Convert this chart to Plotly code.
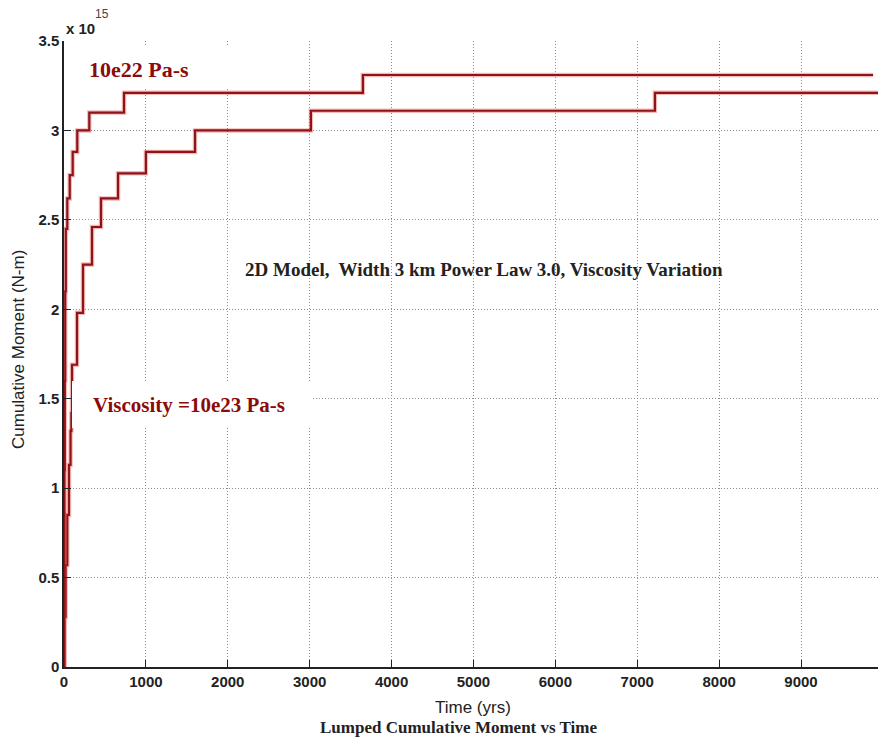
import plotly.graph_objects as go

# Data (moment in units of 1e15 N-m, time in years)
t_low_visc = [0, 5, 20, 40, 61, 80, 90, 98, 159, 232, 342, 452, 660, 1000, 1600, 3015, 7216, 9940]
m_low_visc = [0, 0.28, 0.57, 0.85, 1.13, 1.32, 1.42, 1.69, 1.98, 2.25, 2.46, 2.62, 2.76, 2.88, 3.0, 3.11, 3.21, 3.21]

t_high_visc = [0, 3, 6, 10, 15, 22, 40, 70, 106, 162, 309, 733, 3650, 9880]
m_high_visc = [0, 0.55, 1.1, 1.6, 2.1, 2.45, 2.62, 2.75, 2.88, 3.0, 3.1, 3.21, 3.31, 3.31]

x_ticks = [0, 1000, 2000, 3000, 4000, 5000, 6000, 7000, 8000, 9000]
y_ticks = [0, 0.5, 1, 1.5, 2, 2.5, 3, 3.5]
y_ticklabels = ["0", "0.5", "1", "1.5", "2", "2.5", "3", "3.5"]

fig = go.Figure()
for tx, my in [(t_low_visc, m_low_visc), (t_high_visc, m_high_visc)]:
    fig.add_trace(go.Scatter(x=tx, y=my, mode="lines", line_shape="hv",
                             line=dict(color="rgba(225,80,80,0.4)", width=4.5),
                             hoverinfo="skip", showlegend=False))
    fig.add_trace(go.Scatter(x=tx, y=my, mode="lines", line_shape="hv",
                             line=dict(color="#8e1418", width=2.2),
                             showlegend=False))

tickfont = dict(family="Liberation Sans, Arial", size=15, color="#222", weight="bold")
fig.update_layout(
    width=878, height=740,
    margin=dict(l=64, r=0, t=41, b=73),
    paper_bgcolor="white", plot_bgcolor="white",
    xaxis=dict(range=[0, 9940], tickvals=x_ticks, showgrid=True, gridcolor="#8c8c8c",
               griddash="1px,2px", gridwidth=1, showline=True, linecolor="#222", linewidth=1.5,
               ticks="inside", ticklen=7, tickcolor="#222", tickfont=tickfont, zeroline=False),
    yaxis=dict(range=[0, 3.5], tickvals=y_ticks, ticktext=y_ticklabels, showgrid=True,
               gridcolor="#8c8c8c", griddash="1px,2px", gridwidth=1, showline=True,
               linecolor="#222", linewidth=1.5, ticks="inside", ticklen=7, tickcolor="#222",
               tickfont=tickfont, zeroline=False),
    showlegend=False,
)

# white label boxes
fig.add_shape(type="rect", xref="paper", yref="paper",
              x0=(69-64)/814, x1=(238-64)/814, y0=(667-89)/626, y1=(667-45)/626,
              fillcolor="white", line_width=0, layer="above")
fig.add_shape(type="rect", xref="paper", yref="paper",
              x0=(72-64)/814, x1=(311-64)/814, y0=(667-428)/626, y1=(667-381)/626,
              fillcolor="white", line_width=0, layer="above")


def note(px, py, text, font, **kw):
    fig.add_annotation(xref="paper", yref="paper", x=(px-64)/814, y=(667-py)/626,
                       text=text, showarrow=False, xanchor="center", yanchor="middle",
                       font=font, **kw)


serif = "Liberation Serif, Times New Roman"
narrow = "Liberation Sans Narrow, Liberation Sans, Arial"
note(139, 69, "<b>10e22 Pa-s</b>", dict(family=serif, size=22, color="#8b0a0a"))
note(189, 405, "<b>Viscosity =10e23 Pa-s</b>", dict(family=serif, size=21, color="#8b0a0a"))
note(484, 269, "<b>2D Model,  Width 3 km Power Law 3.0, Viscosity Variation</b>",
     dict(family=serif, size=19, color="#222"))
note(18, 350, "Cumulative Moment (N-m)", dict(family=narrow, size=17, color="#222"), textangle=-90)
note(473, 707, "Time (yrs)", dict(family=narrow, size=17, color="#222"))
note(459, 727, "<b>Lumped Cumulative Moment vs Time</b>", dict(family=serif, size=17, color="#222"))
note(80, 28, "<b>x 10</b>", dict(family="Liberation Sans, Arial", size=15, color="#222"))
note(102, 14, "15", dict(family="Liberation Sans Narrow, Liberation Sans, Arial", size=12, color="#444"))

fig.write_html("out.html")
